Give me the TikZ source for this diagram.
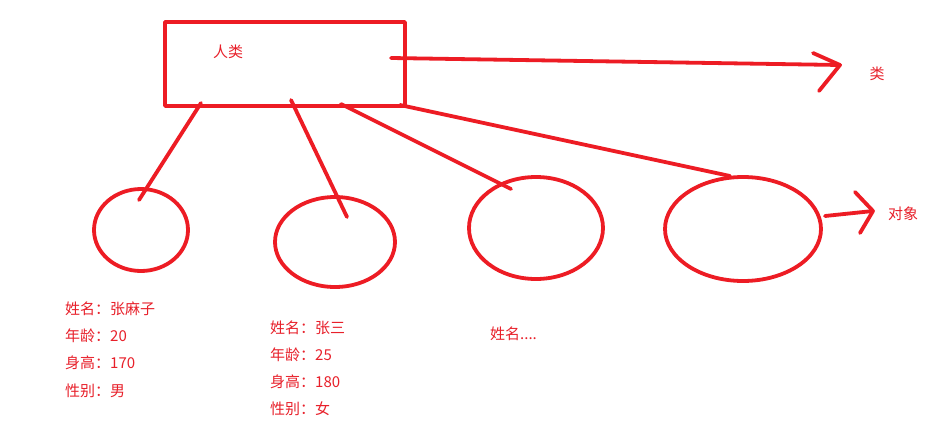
\documentclass[tikz,border=0pt]{standalone}
\usepackage{fontspec}
\newfontfamily\cjk{Noto Sans CJK SC}
\usetikzlibrary{shapes.geometric}
\definecolor{paintred}{HTML}{ED1C24}
\definecolor{txtred}{HTML}{E8202A}
\begin{document}
\begin{tikzpicture}[x=1pt,y=-1pt,
  stroke/.style={draw=paintred,line width=3.8pt,line cap=round,line join=round},
  oval/.style={stroke,ellipse,inner sep=0pt},
  lbl/.style={text=txtred,font=\cjk\fontsize{15}{17}\selectfont,inner sep=0pt},
  info/.style={lbl,anchor=west}]
\useasboundingbox[fill=white] (0,0) rectangle (943,434);
% class box
\node[stroke,rectangle,minimum width=240pt,minimum height=84pt,inner sep=0pt] (box) at (285,64) {};
\node[lbl] (cls) at (228,52) {人类};
% objects
\node[oval,minimum width=94pt,minimum height=82pt] (o1) at (141,230) {};
\node[oval,minimum width=120pt,minimum height=90pt] (o2) at (335,242) {};
\node[oval,minimum width=134pt,minimum height=102pt] (o3) at (536,228) {};
\node[oval,minimum width=156pt,minimum height=104pt] (o4) at (743,229) {};
% connector endpoints
\coordinate (s1) at (201,103); \coordinate (e1) at (139,200);
\coordinate (s2) at (291,100); \coordinate (e2) at (347,217);
\coordinate (s3) at (341,104); \coordinate (e3) at (511,189);
\coordinate (s4) at (400,105); \coordinate (e4) at (730,176);
\draw[stroke] (s1) -- (e1);
\draw[stroke] (s2) -- (e2);
\draw[stroke] (s3) -- (e3);
\draw[stroke] (s4) -- (e4);
% arrow to class label
\coordinate (a1) at (391,58); \coordinate (t1) at (840,65);
\coordinate (b1) at (813,53); \coordinate (c1) at (819,91);
\draw[stroke] (a1) -- (t1);
\draw[stroke] (b1) -- (t1) -- (c1);
\node[lbl] (lc) at (877,74) {类};
% arrow to object label
\coordinate (a2) at (825,216); \coordinate (t2) at (873,211);
\coordinate (b2) at (855,192); \coordinate (c2) at (860,233);
\draw[stroke] (a2) -- (t2);
\draw[stroke] (b2) -- (t2) -- (c2);
\node[lbl] (lo) at (903,214) {对象};
% attributes
\node[info] (p1a) at (65,309) {姓名：张麻子};
\node[info] (p1b) at (65,336) {年龄：20};
\node[info] (p1c) at (65,363) {身高：170};
\node[info] (p1d) at (65,391) {性别：男};
\node[info] (p2a) at (270,328) {姓名：张三};
\node[info] (p2b) at (270,355) {年龄：25};
\node[info] (p2c) at (270,382) {身高：180};
\node[info] (p2d) at (270,409) {性别：女};
\node[info] (p3a) at (490,334) {姓名....};
\end{tikzpicture}
\end{document}
